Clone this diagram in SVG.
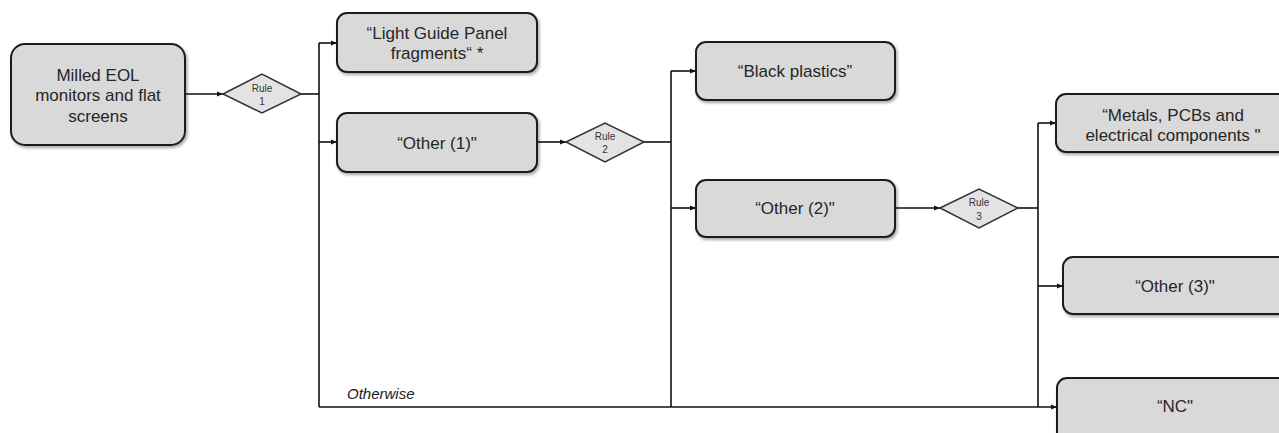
<svg xmlns="http://www.w3.org/2000/svg" width="1279" height="433" viewBox="0 0 1279 433">
<style>
.box{fill:#d9d9d9;stroke:#1f1f1f;stroke-width:2;filter:url(#sh)}
.dia{fill:#e3e3e3;stroke:#333;stroke-width:1.5}
.t{font-family:"Liberation Sans",Arial,sans-serif;font-size:17px;fill:#262626;text-anchor:middle;dominant-baseline:central}
.r{font-family:"Liberation Sans",Arial,sans-serif;font-size:10px;fill:#333;text-anchor:middle;dominant-baseline:central}
.c{fill:none;stroke:#111;stroke-width:1.6}
.a{fill:none;stroke:#111;stroke-width:1.6;marker-end:url(#ah)}
</style>
<defs>
<filter id="sh" x="-10%" y="-10%" width="130%" height="140%">
<feDropShadow dx="1.5" dy="2" stdDeviation="1.5" flood-color="#000" flood-opacity="0.35"/>
</filter>
<marker id="ah" viewBox="0 0 10 10" refX="10" refY="5" markerWidth="4" markerHeight="4" orient="auto" markerUnits="strokeWidth">
<path d="M0,1 L10,5 L0,9 z" fill="#111"/>
</marker>
</defs>
<rect width="1279" height="433" fill="#fff"/>
<g id="connectors">
<line class="a" x1="185" y1="94" x2="223" y2="94"/>
<line class="c" x1="301" y1="94" x2="319" y2="94"/>
<line class="c" x1="319" y1="43" x2="319" y2="407"/>
<line class="a" x1="319" y1="43" x2="337" y2="43"/>
<line class="a" x1="319" y1="142" x2="337" y2="142"/>
<line class="a" x1="537" y1="142" x2="566" y2="142"/>
<line class="c" x1="644" y1="142" x2="671" y2="142"/>
<line class="c" x1="671" y1="71" x2="671" y2="407"/>
<line class="a" x1="671" y1="71" x2="696" y2="71"/>
<line class="a" x1="671" y1="208" x2="696" y2="208"/>
<line class="a" x1="895" y1="208" x2="940" y2="208"/>
<line class="c" x1="1018" y1="208" x2="1038" y2="208"/>
<line class="c" x1="1038" y1="123" x2="1038" y2="407"/>
<line class="a" x1="1038" y1="123" x2="1056" y2="123"/>
<line class="a" x1="1038" y1="286" x2="1063" y2="286"/>
<line class="a" x1="319" y1="407" x2="1057" y2="407"/>
<text x="347" y="399" font-family="Liberation Sans,Arial,sans-serif" font-size="15" font-style="italic" fill="#222">Otherwise</text>
</g>
<g id="n-milled">
<rect class="box" x="11" y="44" width="174" height="101" rx="14"/>
<text class="t" x="98" y="75">Milled EOL</text>
<text class="t" x="98" y="95">monitors and flat</text>
<text class="t" x="98" y="116">screens</text>
</g>
<g id="rule1">
<polygon class="dia" points="223,94 262,74 301,94 262,113"/>
<text class="r" x="262" y="88">Rule</text>
<text class="r" x="262" y="101">1</text>
</g>
<g id="n-lgp">
<rect class="box" x="337" y="13" width="200" height="59" rx="10"/>
<text class="t" x="437" y="33">“Light Guide Panel</text>
<text class="t" x="437" y="53">fragments“ *</text>
</g>
<g id="n-other1">
<rect class="box" x="337" y="113" width="200" height="59" rx="10"/>
<text class="t" x="437" y="143">“Other (1)"</text>
</g>
<g id="rule2">
<polygon class="dia" points="566,142 605,123 644,142 605,162"/>
<text class="r" x="605" y="136">Rule</text>
<text class="r" x="605" y="149">2</text>
</g>
<g id="n-black">
<rect class="box" x="696" y="42" width="199" height="58" rx="10"/>
<text class="t" x="795" y="71">“Black plastics”</text>
</g>
<g id="n-other2">
<rect class="box" x="696" y="180" width="199" height="57" rx="10"/>
<text class="t" x="795" y="208">“Other (2)"</text>
</g>
<g id="rule3">
<polygon class="dia" points="940,208 979,189 1018,208 979,228"/>
<text class="r" x="979" y="202">Rule</text>
<text class="r" x="979" y="216">3</text>
</g>
<g id="n-metals">
<rect class="box" x="1056" y="94" width="234" height="58" rx="10"/>
<text class="t" x="1173" y="115">“Metals, PCBs and</text>
<text class="t" x="1173" y="135">electrical components "</text>
</g>
<g id="n-other3">
<rect class="box" x="1063" y="257" width="228" height="57" rx="10"/>
<text class="t" x="1175" y="286">“Other (3)"</text>
</g>
<g id="n-nc">
<rect class="box" x="1057" y="378" width="236" height="70" rx="10"/>
<text class="t" x="1175" y="406">“NC"</text>
</g>
</svg>
